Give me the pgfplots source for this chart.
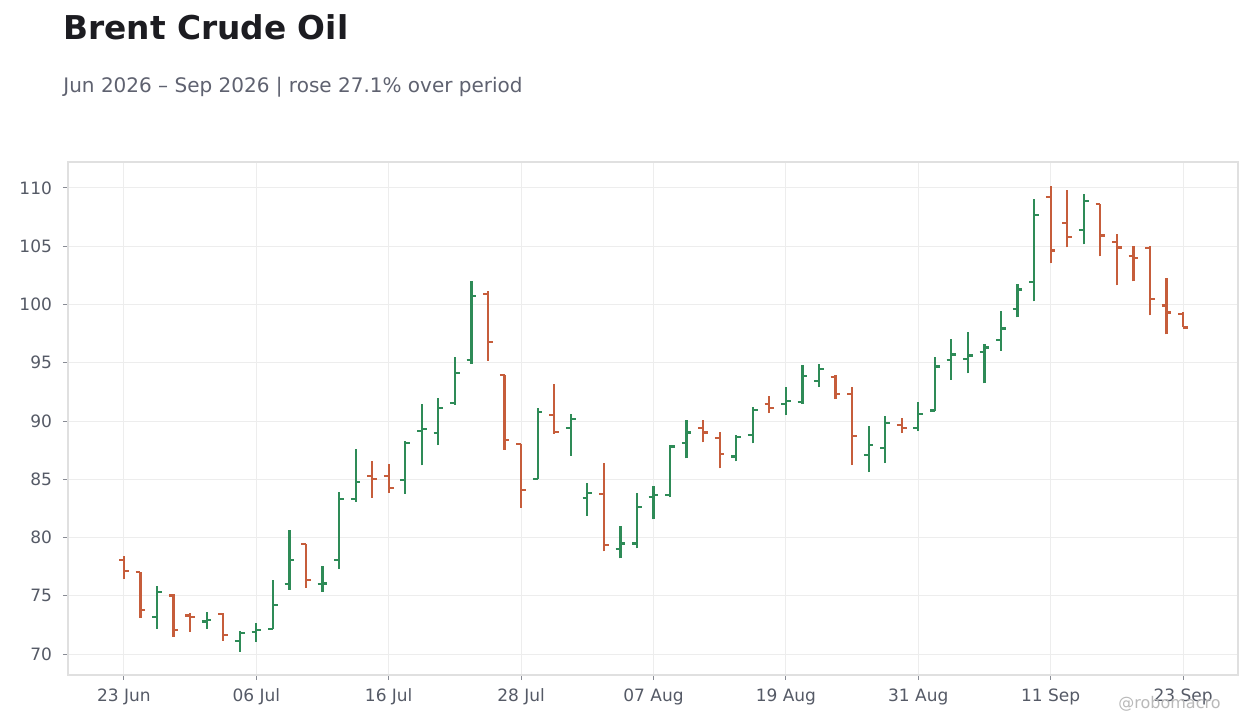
\documentclass[border=0pt]{standalone}
\usepackage{fontspec}
\setmainfont{DejaVu Sans}
\usepackage{pgfplots}
\pgfplotsset{compat=1.18}
\usepackage{pgfplotstable}

\definecolor{upcol}{HTML}{2E8B57}
\definecolor{downcol}{HTML}{C65D3B}
\definecolor{titlecol}{HTML}{1C1C21}
\definecolor{subcol}{HTML}{5F6270}
\definecolor{tickcol}{HTML}{555A66}
\definecolor{gridcol}{HTML}{EDEDED}
\definecolor{framecol}{HTML}{E0E0E0}

% open tick to the left, close tick to the right
\pgfdeclareplotmark{ohlcopen}{%
  \pgfsetlinewidth{1.1pt}%
  \pgfpathmoveto{\pgfqpoint{-2.4pt}{0pt}}%
  \pgfpathlineto{\pgfqpoint{0pt}{0pt}}%
  \pgfusepathqstroke}
\pgfdeclareplotmark{ohlcclose}{%
  \pgfsetlinewidth{1.1pt}%
  \pgfpathmoveto{\pgfqpoint{0pt}{0pt}}%
  \pgfpathlineto{\pgfqpoint{2.4pt}{0pt}}%
  \pgfusepathqstroke}

% i open high low close
\pgfplotstableread{
i o h l c
2 73.19 75.82 72.16 75.34
5 72.80 73.60 72.16 72.93
7 71.13 71.94 70.19 71.82
8 71.90 72.65 71.05 72.08
9 72.16 76.34 72.13 74.22
10 76.02 80.63 75.50 78.08
12 76.00 77.54 75.34 76.05
13 78.08 83.89 77.31 83.31
14 83.31 87.57 83.05 84.77
17 84.94 88.32 83.74 88.12
18 89.15 91.49 86.20 89.32
19 88.98 91.95 87.94 91.12
20 91.56 95.48 91.39 94.13
21 95.25 102.00 94.90 100.74
25 85.04 91.11 85.00 90.76
27 89.42 90.59 87.00 90.19
28 83.39 84.67 81.87 83.85
30 78.99 81.02 78.22 79.48
31 79.48 83.85 79.07 82.59
32 83.45 84.45 81.56 83.62
33 83.62 87.97 83.45 87.82
34 88.08 90.11 86.79 89.02
37 86.96 88.82 86.54 88.60
38 88.77 91.23 88.08 90.91
40 91.45 92.88 90.51 91.71
41 91.62 94.77 91.45 93.85
42 93.42 94.85 92.91 94.45
45 87.08 89.54 85.62 87.93
46 87.68 90.40 86.39 89.82
48 89.39 91.60 89.13 90.60
49 90.90 95.51 90.87 94.68
50 95.25 97.06 93.56 95.71
51 95.34 97.66 94.08 95.62
52 95.94 96.63 93.22 96.31
53 96.97 99.46 96.05 97.94
54 99.58 101.78 98.89 101.29
55 101.90 109.08 100.26 107.65
58 106.36 109.51 105.16 108.85
}\updays

\pgfplotstableread{
i o h l c
0 78.08 78.40 76.45 77.14
1 77.05 77.05 73.10 73.80
3 75.03 75.11 71.48 72.08
4 73.30 73.51 71.90 73.15
6 73.45 73.51 71.13 71.65
11 79.45 79.45 75.68 76.36
15 85.28 86.54 83.40 85.03
16 85.28 86.29 83.83 84.25
22 100.91 101.14 95.16 96.79
23 93.96 93.96 87.53 88.35
24 88.05 88.05 82.56 84.10
26 90.53 93.16 88.90 89.05
29 83.71 86.42 78.82 79.34
35 89.37 90.11 88.17 89.02
36 88.51 89.05 85.94 87.14
39 91.45 92.11 90.68 91.11
43 93.77 93.91 91.88 92.31
44 92.31 92.88 86.22 88.68
47 89.65 90.22 88.96 89.39
56 109.20 110.20 103.53 104.64
57 106.96 109.86 104.90 105.76
59 108.60 108.60 104.13 105.93
60 105.33 106.08 101.64 104.90
61 104.13 105.05 101.98 103.96
62 104.82 105.05 99.06 100.44
63 99.92 102.30 97.43 99.32
64 99.15 99.38 98.03 98.03
}\downdays

\begin{document}
\begin{tikzpicture}
\fill[white] (0,0) rectangle (630pt,364pt);
\path[use as bounding box] (0,0) rectangle (630pt,364pt);

\node[anchor=base west, inner sep=0pt, text=titlecol, font=\fontsize{16.4}{18}\selectfont\bfseries]
  at (31.5pt,344pt) {Brent Crude Oil};
\node[anchor=base west, inner sep=0pt, text=subcol, font=\fontsize{10}{12}\selectfont]
  at (31.5pt,317.5pt) {Jun 2026 – Sep 2026 | rose 27.1\% over period};

\begin{axis}[
    at={(34pt,26.5pt)}, anchor=south west,
    scale only axis,
    width=585pt, height=256.5pt,
    xmin=-3.38, xmax=67.32,
    ymin=68.2, ymax=112.23,
    xtick={0,8,16,24,32,40,48,56,64},
    xticklabels={23 Jun, 06 Jul, 16 Jul, 28 Jul, 07 Aug, 19 Aug, 31 Aug, 11 Sep, 23 Sep},
    ytick={70,75,...,110},
    grid=major,
    major grid style={draw=gridcol, line width=0.5pt},
    axis line style={draw=framecol, line width=0.6pt},
    tick align=outside,
    tick pos=left,
    major tick length=2.5pt,
    tick style={draw=tickcol!70, line width=0.5pt},
    tick label style={text=tickcol, font=\fontsize{8.5}{10}\selectfont},
    /pgf/number format/assume math mode=true,
    yticklabel style={xshift=-2pt},
    xticklabel style={yshift=-1pt},
    clip=false,
]
% high-low lines
\addplot[draw=none, no markers, forget plot,
    error bars/.cd, y dir=plus, y explicit, error mark=none,
    error bar style={draw=upcol, line width=1.1pt}]
    table[x=i, y=l, y error plus expr=\thisrow{h}-\thisrow{l}] {\updays};
\addplot[draw=none, no markers, forget plot,
    error bars/.cd, y dir=plus, y explicit, error mark=none,
    error bar style={draw=downcol, line width=1.1pt}]
    table[x=i, y=l, y error plus expr=\thisrow{h}-\thisrow{l}] {\downdays};
% open ticks
\addplot[only marks, mark=ohlcopen, mark options={draw=upcol}]
    table[x=i, y=o] {\updays};
\addplot[only marks, mark=ohlcopen, mark options={draw=downcol}]
    table[x=i, y=o] {\downdays};
% close ticks
\addplot[only marks, mark=ohlcclose, mark options={draw=upcol}]
    table[x=i, y=c] {\updays};
\addplot[only marks, mark=ohlcclose, mark options={draw=downcol}]
    table[x=i, y=c] {\downdays};
\end{axis}

\node[anchor=base west, inner sep=0pt, text=gray!55, font=\fontsize{8}{10}\selectfont]
  at (559pt,9.5pt) {@robomacro};
\end{tikzpicture}
\end{document}
